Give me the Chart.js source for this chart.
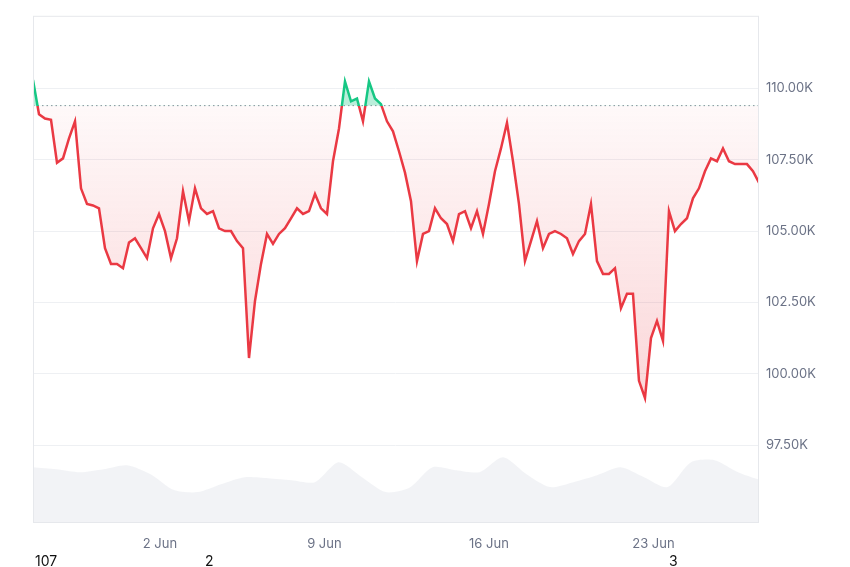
<!DOCTYPE html>
<html>
<head>
<meta charset="utf-8">
<script src="https://cdn.jsdelivr.net/npm/chart.js@4.4.1/dist/chart.umd.min.js"></script>
<style>
  body { margin: 0; background: #fff; font-family: "Inter", "Noto Sans", sans-serif; }
  #wrap { position: relative; width: 850px; height: 567px; }
  .foot { position: absolute; top: 552px; font-size: 14px; color: #111; }
</style>
</head>
<body>
<div id="wrap">
  <canvas id="priceChart" width="850" height="567"></canvas>
  <span class="foot" style="left:35px">107</span>
  <span class="foot" style="left:205px">2</span>
  <span class="foot" style="left:669px">3</span>
</div>
<script>
// time in days since 1 Jun 00:00, one price every ~6 hours
const startDay = -4.4;
const stepDay = 0.2553;
const prices = [
  110.3, 109.1, 108.95, 108.9, 107.4, 107.55, 108.25, 108.85, 106.5, 105.95,
  105.9, 105.8, 104.4, 103.85, 103.85, 103.7, 104.6, 104.75, 104.4, 104.05,
  105.1, 105.6, 105.0, 104.05, 104.75, 106.4, 105.35, 106.5, 105.8, 105.6,
  105.7, 105.1, 105.0, 105.0, 104.65, 104.4, 100.55, 102.55, 103.85, 104.9,
  104.55, 104.9, 105.1, 105.45, 105.8, 105.6, 105.7, 106.3, 105.8, 105.6,
  107.45, 108.6, 110.25, 109.55, 109.65, 108.85, 110.25, 109.65, 109.45, 108.85,
  108.5, 107.8, 107.05, 106.05, 103.95, 104.9, 105.0, 105.8, 105.45, 105.25,
  104.65, 105.6, 105.7, 105.1, 105.7, 104.9, 105.95, 107.1, 107.9, 108.8,
  107.45, 105.95, 103.95, 104.65, 105.35, 104.4, 104.9, 105.0, 104.9, 104.75,
  104.2, 104.65, 104.9, 105.95, 103.95, 103.5, 103.5, 103.7, 102.3, 102.8,
  102.8, 99.75, 99.15, 101.25, 101.85, 101.15, 105.7, 105.0, 105.25, 105.45,
  106.15, 106.5, 107.1, 107.55, 107.45, 107.9, 107.45, 107.35, 107.35, 107.35,
  107.1, 106.7, 107.3
];
const baseline = 109.4;

// volume, one value per ~1 day
const volStepDay = 1.0;
const volumes = [
  55, 53, 50, 53, 57, 48, 32, 30, 38, 45, 44, 42, 40, 60, 45, 30,
  34, 55, 52, 50, 65, 48, 35, 40, 47, 55, 45, 35, 60, 62, 50, 42, 40
];

const tickDays = [1, 8, 15, 22];
const tickLabels = ['2 Jun', '9 Jun', '16 Jun', '23 Jun'];
const yTicks = [97.5, 100, 102.5, 105, 107.5, 110];

const pricePts = prices.map((p, i) => ({ x: startDay + i * stepDay, y: p }));
const volPts = volumes.map((v, i) => ({ x: startDay + i * volStepDay, y: v }));

function splitColor(ctx, above, below) {
  const chart = ctx.chart;
  const area = chart.chartArea;
  if (!area) return below;
  const yb = chart.scales.y.getPixelForValue(baseline);
  const t = Math.min(Math.max((yb - area.top) / (area.bottom - area.top), 0), 1);
  const g = chart.ctx.createLinearGradient(0, area.top, 0, area.bottom);
  g.addColorStop(0, above);
  g.addColorStop(t, above);
  g.addColorStop(t, below);
  g.addColorStop(1, below);
  return g;
}

function belowFill(ctx) {
  const chart = ctx.chart;
  const area = chart.chartArea;
  if (!area) return 'rgba(234,57,67,0.08)';
  const yb = chart.scales.y.getPixelForValue(baseline);
  const g = chart.ctx.createLinearGradient(0, yb, 0, area.bottom - 100);
  g.addColorStop(0, 'rgba(234,57,67,0.03)');
  g.addColorStop(1, 'rgba(234,57,67,0.22)');
  return g;
}

const baselinePlugin = {
  id: 'baselineLine',
  beforeDatasetsDraw(chart) {
    const { ctx, chartArea } = chart;
    const y = chart.scales.y.getPixelForValue(baseline);
    ctx.save();
    ctx.strokeStyle = '#8a8f9c';
    ctx.lineWidth = 1;
    ctx.setLineDash([1.5, 3]);
    ctx.beginPath();
    ctx.moveTo(chartArea.left, y);
    ctx.lineTo(chartArea.right, y);
    ctx.stroke();
    ctx.restore();
  }
};

const frame = {
  id: 'frame',
  afterDraw(chart) {
    const { ctx, chartArea } = chart;
    ctx.save();
    ctx.strokeStyle = '#e6e8ec';
    ctx.lineWidth = 1;
    ctx.strokeRect(chartArea.left + 0.5, chartArea.top + 0.5, chartArea.width, chartArea.height);
    ctx.restore();
  }
};

new Chart(document.getElementById('priceChart'), {
  type: 'line',
  data: {
    datasets: [
      {
        data: pricePts,
        yAxisID: 'y',
        borderWidth: 2.5,
        pointRadius: 0,
        tension: 0,
        borderColor: ctx => splitColor(ctx, '#16c784', '#ea3943'),
        fill: { target: { value: baseline }, above: 'rgba(22,199,132,0.3)', below: belowFill },
        order: 1
      },
      {
        data: volPts,
        yAxisID: 'vol',
        borderWidth: 0,
        pointRadius: 0,
        tension: 0.25,
        backgroundColor: 'rgba(160,172,190,0.14)',
        fill: 'origin',
        order: 2
      }
    ]
  },
  options: {
    responsive: false,
    animation: false,
    layout: { padding: { left: 33, top: 14, right: 0, bottom: 0 } },
    plugins: { legend: { display: false }, tooltip: { enabled: false } },
    scales: {
      x: {
        type: 'linear',
        min: startDay,
        max: 26.45,
        grid: { display: false },
        border: { display: false },
        afterBuildTicks: axis => { axis.ticks = tickDays.map(v => ({ value: v })); },
        afterFit: axis => { axis.height = 45; },
        ticks: {
          color: '#6b7286',
          font: { size: 13, family: 'Inter' },
          maxRotation: 0,
          padding: 6,
          callback: v => tickLabels[tickDays.indexOf(v)]
        }
      },
      y: {
        position: 'right',
        min: 94.8,
        max: 112.55,
        afterBuildTicks: axis => { axis.ticks = yTicks.map(v => ({ value: v })); },
        afterFit: axis => { axis.width = 92; },
        grid: { color: '#eef0f3', drawTicks: false },
        border: { display: false },
        ticks: {
          color: '#6b7286',
          font: { size: 13, family: 'Inter' },
          padding: 8,
          callback: v => v.toFixed(2) + 'K'
        }
      },
      vol: {
        display: false,
        min: 0,
        max: 508
      }
    }
  },
  plugins: [baselinePlugin, frame]
});
</script>
</body>
</html>
